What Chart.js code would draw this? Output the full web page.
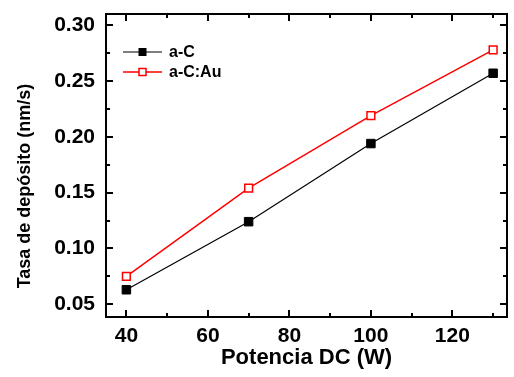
<!DOCTYPE html>
<html>
<head>
<meta charset="utf-8">
<script src="https://cdn.jsdelivr.net/npm/chart.js@4.4.1/dist/chart.umd.min.js"></script>
<style>
  html, body { margin: 0; padding: 0; background: #fff; }
</style>
</head>
<body>
<canvas id="rate" width="514" height="377"></canvas>
<script>
// deposition rate vs DC power
var potencia = [40, 70, 100, 130];
var tasaAC = [0.063, 0.124, 0.194, 0.257];
var tasaACAu = [0.075, 0.154, 0.219, 0.278];
var seriesNames = ['a-C', 'a-C:Au'];

var xTicks = [40, 60, 80, 100, 120];
var xMinor = [50, 70, 90, 110, 130];
var yTicks = [0.05, 0.10, 0.15, 0.20, 0.25, 0.30];
var yMinor = [0.075, 0.125, 0.175, 0.225, 0.275];

var FONT = "'Liberation Sans', Arial, sans-serif";

// box frame with inward ticks on all four sides, plus legend and y title
var framePlugin = {
  id: 'frame',
  afterDraw: function(chart) {
    var ctx = chart.ctx;
    var a = chart.chartArea;
    var xs = chart.scales.x, ys = chart.scales.y;
    ctx.save();
    ctx.strokeStyle = '#000';
    ctx.lineWidth = 2;
    ctx.strokeRect(a.left, a.top, a.right - a.left, a.bottom - a.top);

    function xTick(v, len) {
      var p = Math.round(xs.getPixelForValue(v));
      if (p < a.left || p > a.right) return;
      ctx.beginPath();
      ctx.moveTo(p, a.bottom); ctx.lineTo(p, a.bottom - len);
      ctx.moveTo(p, a.top); ctx.lineTo(p, a.top + len);
      ctx.stroke();
    }
    function yTick(v, len) {
      var p = Math.round(ys.getPixelForValue(v));
      if (p < a.top || p > a.bottom) return;
      ctx.beginPath();
      ctx.moveTo(a.left, p); ctx.lineTo(a.left + len, p);
      ctx.moveTo(a.right, p); ctx.lineTo(a.right - len, p);
      ctx.stroke();
    }
    xTicks.forEach(function(v) { xTick(v, 7); });
    xMinor.forEach(function(v) { xTick(v, 4); });
    yTicks.forEach(function(v) { yTick(v, 7); });
    yMinor.forEach(function(v) { yTick(v, 4); });

    // legend
    ctx.font = 'bold 16px ' + FONT;
    ctx.textBaseline = 'middle';
    ctx.textAlign = 'left';
    chart.data.datasets.forEach(function(ds, i) {
      var y = 52 + i * 20;
      ctx.strokeStyle = ds.borderColor;
      ctx.lineWidth = ds.borderWidth;
      ctx.beginPath();
      ctx.moveTo(123, y); ctx.lineTo(162, y);
      ctx.stroke();
      ctx.fillStyle = ds.pointBackgroundColor;
      ctx.fillRect(139, y - 3.5, 7, 7);
      ctx.lineWidth = ds.pointBorderWidth;
      ctx.strokeStyle = ds.pointBorderColor;
      ctx.strokeRect(139, y - 3.5, 7, 7);
      ctx.fillStyle = '#000';
      ctx.fillText(ds.label, 169, y + 1);
    });

    // y axis title
    ctx.translate(25, 186);
    ctx.rotate(-Math.PI / 2);
    ctx.textAlign = 'center';
    ctx.font = 'bold 18px ' + FONT;
    ctx.fillText('Tasa de depósito (nm/s)', 0, 0);
    ctx.restore();
  }
};

function noEdgePadding(s) {
  s.paddingTop = 0; s.paddingBottom = 0;
  s.paddingLeft = 0; s.paddingRight = 0;
}

new Chart(document.getElementById('rate'), {
  type: 'line',
  data: {
    labels: potencia,
    datasets: [
      {
        label: seriesNames[0],
        data: potencia.map(function(x, i) { return {x: x, y: tasaAC[i]}; }),
        borderColor: '#000',
        borderWidth: 1.2,
        pointStyle: 'rect',
        pointRadius: 6,
        pointBackgroundColor: '#000',
        pointBorderColor: '#000',
        pointBorderWidth: 1,
        clip: false
      },
      {
        label: seriesNames[1],
        data: potencia.map(function(x, i) { return {x: x, y: tasaACAu[i]}; }),
        borderColor: '#ff0000',
        borderWidth: 1.5,
        pointStyle: 'rect',
        pointRadius: 5.5,
        pointBackgroundColor: '#fff',
        pointBorderColor: '#ff0000',
        pointBorderWidth: 1.5,
        clip: false
      }
    ]
  },
  options: {
    responsive: false,
    animation: false,
    devicePixelRatio: 1,
    layout: { padding: { top: 14, right: 1, left: 0, bottom: 0 } },
    plugins: { legend: { display: false }, tooltip: { enabled: false } },
    scales: {
      x: {
        type: 'linear',
        min: 35,
        max: 133.4,
        grid: { display: false, drawTicks: false },
        border: { display: false },
        afterBuildTicks: function(s) { s.ticks = xTicks.map(function(v) { return {value: v}; }); },
        afterFit: function(s) { s.height = 60; noEdgePadding(s); },
        ticks: {
          color: '#000',
          padding: 7,
          maxRotation: 0,
          font: { family: FONT, size: 21, weight: 'bold' },
          callback: function(v) { return v; }
        },
        title: {
          display: true,
          text: 'Potencia DC (W)',
          color: '#000',
          padding: { top: 0, bottom: 6 },
          font: { family: FONT, size: 22, weight: 'bold', lineHeight: 1.2 }
        }
      },
      y: {
        min: 0.0386,
        max: 0.3101,
        grid: { display: false, drawTicks: false },
        border: { display: false },
        afterBuildTicks: function(s) { s.ticks = yTicks.map(function(v) { return {value: v}; }); },
        afterFit: function(s) { s.width = 106; noEdgePadding(s); },
        ticks: {
          color: '#000',
          padding: 11,
          font: { family: FONT, size: 21, weight: 'bold' },
          callback: function(v) { return v.toFixed(2); }
        }
      }
    }
  },
  plugins: [framePlugin]
});
</script>
</body>
</html>
